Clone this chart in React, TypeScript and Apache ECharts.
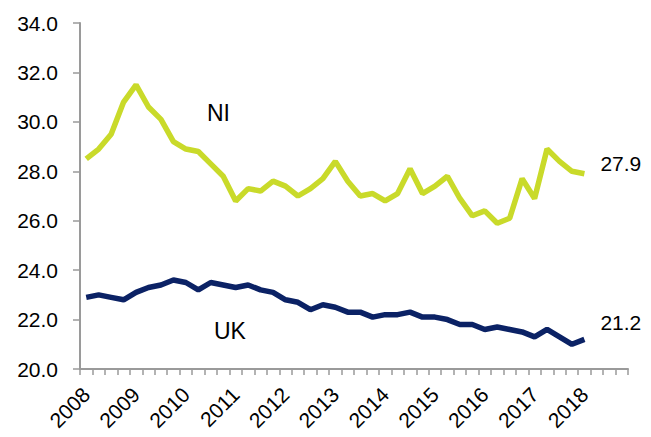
import React, { useEffect, useRef } from "react";
import * as echarts from "echarts";

const years = ["2008", "2009", "2010", "2011", "2012", "2013", "2014", "2015", "2016", "2017", "2018"];
const quarters = ["Q1", "Q2", "Q3", "Q4"];
const categories: string[] = [];
years.forEach((y) => quarters.forEach((q) => categories.push(y + " " + q)));

const niValues = [
  28.5, 28.9, 29.5, 30.8, 31.5, 30.6, 30.1, 29.2, 28.9, 28.8,
  28.3, 27.8, 26.8, 27.3, 27.2, 27.6, 27.4, 27.0, 27.3, 27.7,
  28.4, 27.6, 27.0, 27.1, 26.8, 27.1, 28.1, 27.1, 27.4, 27.8,
  26.9, 26.2, 26.4, 25.9, 26.1, 27.7, 26.9, 28.9, 28.4, 28.0,
  27.9,
];
const ukValues = [
  22.9, 23.0, 22.9, 22.8, 23.1, 23.3, 23.4, 23.6, 23.5, 23.2,
  23.5, 23.4, 23.3, 23.4, 23.2, 23.1, 22.8, 22.7, 22.4, 22.6,
  22.5, 22.3, 22.3, 22.1, 22.2, 22.2, 22.3, 22.1, 22.1, 22.0,
  21.8, 21.8, 21.6, 21.7, 21.6, 21.5, 21.3, 21.6, 21.3, 21.0,
  21.2,
];

const NI_COLOR = "#C9DA2A";
const UK_COLOR = "#0B2265";
const AXIS_COLOR = "#9a9a9a";
const FONT = "'Liberation Sans', Arial, sans-serif";

export default function App() {
  const ref = useRef<HTMLDivElement>(null);
  useEffect(() => {
    if (!ref.current) return;
    const chart = echarts.init(ref.current, undefined, { renderer: "svg" });
    chart.setOption({
      animation: false,
      grid: { left: 80, right: 23, top: 23, bottom: 68, containLabel: false, outerBoundsMode: "none" },
      xAxis: {
        type: "category",
        data: categories,
        boundaryGap: true,
        axisLine: { show: true, lineStyle: { color: AXIS_COLOR, width: 2 } },
        axisTick: { show: true, interval: 0, length: 6, lineStyle: { color: AXIS_COLOR, width: 1.5 } },
        axisLabel: {
          interval: 3,
          rotate: 45,
          margin: 22,
          color: "#000",
          fontSize: 21,
          fontFamily: FONT,
          formatter: (v: string) => v.split(" ")[0],
        },
        splitLine: { show: false },
      },
      yAxis: {
        type: "value",
        min: 20,
        max: 34,
        interval: 2,
        axisLine: { show: true, lineStyle: { color: AXIS_COLOR, width: 2 } },
        axisTick: { show: true, length: 7, lineStyle: { color: AXIS_COLOR, width: 1.5 } },
        axisLabel: {
          margin: 22,
          color: "#000",
          fontSize: 21,
          fontFamily: FONT,
          formatter: (v: number) => v.toFixed(1),
        },
        splitLine: { show: false },
      },
      series: [
        {
          name: "NI",
          type: "line",
          data: niValues,
          symbol: "none",
          lineStyle: { color: NI_COLOR, width: 5.5 },
          itemStyle: { color: NI_COLOR },
          endLabel: {
            show: true,
            distance: 16,
            offset: [0, -10],
            color: "#000",
            fontSize: 21,
            fontFamily: FONT,
            formatter: (p: any) => Number(p.value).toFixed(1),
          },
        },
        {
          name: "UK",
          type: "line",
          data: ukValues,
          symbol: "none",
          lineStyle: { color: UK_COLOR, width: 5.5 },
          itemStyle: { color: UK_COLOR },
          endLabel: {
            show: true,
            distance: 16,
            offset: [0, -17],
            color: "#000",
            fontSize: 21,
            fontFamily: FONT,
            formatter: (p: any) => Number(p.value).toFixed(1),
          },
        },
      ],
      graphic: [
        {
          type: "text",
          left: 207,
          top: 101,
          style: { text: "NI", fontSize: 23, fontFamily: FONT, fill: "#000" },
        },
        {
          type: "text",
          left: 214,
          top: 319,
          style: { text: "UK", fontSize: 23, fontFamily: FONT, fill: "#000" },
        },
      ],
    });
    return () => chart.dispose();
  }, []);
  return (
    <div
      ref={ref}
      style={{ position: "fixed", left: 0, top: 0, width: 651, height: 437, background: "#fff" }}
    />
  );
}
